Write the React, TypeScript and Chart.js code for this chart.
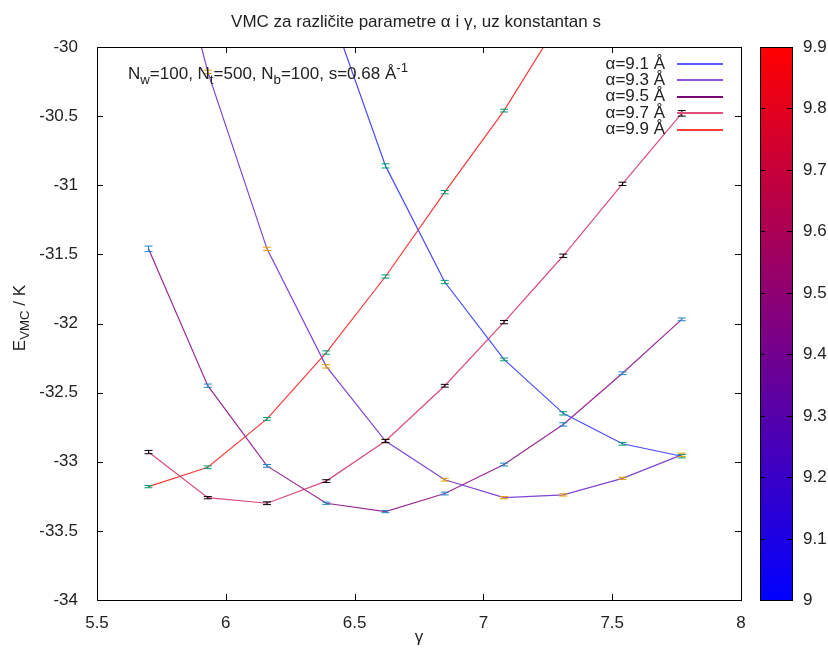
import React, { useEffect, useRef } from "react";
import { Chart, registerables } from "chart.js";

Chart.register(...registerables);

const gamma = [5.7, 5.93, 6.16, 6.39, 6.62, 6.85, 7.08, 7.31, 7.54, 7.77];
const alphaLabels = ["α=9.1 Å", "α=9.3 Å", "α=9.5 Å", "α=9.7 Å", "α=9.9 Å"];
const e91 = [-25.4, -26.9, -28.3, -29.65, -30.86, -31.7, -32.26, -32.65, -32.87, -32.96];
const e93 = [-28.5, -30.18, -31.46, -32.31, -32.85, -33.13, -33.26, -33.24, -33.12, -32.95];
const e95 = [-31.46, -32.45, -33.03, -33.3, -33.36, -33.23, -33.02, -32.73, -32.36, -31.97];
const e97 = [-32.93, -33.26, -33.3, -33.14, -32.85, -32.45, -31.99, -31.51, -30.99, -30.48];
const e99 = [-33.18, -33.04, -32.69, -32.21, -31.66, -31.05, -30.46, -29.77, -29.0, -28.2];
const err91 = [0.01, 0.01, 0.01, 0.01, 0.015, 0.012, 0.01, 0.012, 0.01, 0.012];
const err93 = [0.01, 0.012, 0.012, 0.012, 0.012, 0.01, 0.008, 0.008, 0.008, 0.012];
const err95 = [0.02, 0.012, 0.01, 0.008, 0.008, 0.01, 0.01, 0.012, 0.01, 0.01];
const err97 = [0.012, 0.008, 0.01, 0.01, 0.012, 0.01, 0.012, 0.012, 0.012, 0.02];
const err99 = [0.008, 0.01, 0.01, 0.012, 0.012, 0.012, 0.01, 0.01, 0.01, 0.01];
const lineColors = ["#4a4aff", "#8044d4", "#9a2a96", "#dc4c78", "#ff3a3a"];
const legendColors = ["#5a5aff", "#8a55d8", "#7a0a76", "#e0507a", "#ff3a3a"];
const errColors = ["#009e73", "#e69f00", "#1a86c8", "#000000", "#009e73"];
const xTicks = [5.5, 6, 6.5, 7, 7.5, 8];
const yTicks = [-34, -33.5, -33, -32.5, -32, -31.5, -31, -30.5, -30];
const cbTicks = [9, 9.1, 9.2, 9.3, 9.4, 9.5, 9.6, 9.7, 9.8, 9.9];

const energies = [e91, e93, e95, e97, e99];
const errors = [err91, err93, err95, err97, err99];

const FONT = "'Liberation Sans', Arial, sans-serif";
const FS = 17;

type Part = { t: string; sub?: boolean; sup?: boolean };

function drawRich(ctx: CanvasRenderingContext2D, parts: Part[], x: number, y: number, size: number) {
  let cx = x;
  for (const p of parts) {
    const s = p.sub || p.sup ? size * 0.78 : size;
    ctx.font = `${s}px ${FONT}`;
    const dy = p.sub ? size * 0.3 : p.sup ? -size * 0.4 : 0;
    ctx.fillText(p.t, cx, y + dy);
    cx += ctx.measureText(p.t).width;
  }
  return cx - x;
}

function measureRich(ctx: CanvasRenderingContext2D, parts: Part[], size: number) {
  let w = 0;
  for (const p of parts) {
    const s = p.sub || p.sup ? size * 0.78 : size;
    ctx.font = `${s}px ${FONT}`;
    w += ctx.measureText(p.t).width;
  }
  return w;
}

const extras = {
  id: "extras",
  afterDatasetsDraw(chart: any) {
    const ctx: CanvasRenderingContext2D = chart.ctx;
    const { left, right, top, bottom } = chart.chartArea;
    const xs = chart.scales.x;
    const ys = chart.scales.y;
    ctx.save();
    ctx.beginPath();
    ctx.rect(left, top, right - left, bottom - top);
    ctx.clip();
    energies.forEach((arr, si) => {
      ctx.strokeStyle = errColors[si];
      ctx.lineWidth = 1;
      arr.forEach((v, i) => {
        const e = errors[si][i];
        const px = xs.getPixelForValue(gamma[i]);
        const y1 = ys.getPixelForValue(v + e);
        const y2 = ys.getPixelForValue(v - e);
        ctx.beginPath();
        ctx.moveTo(px, y1);
        ctx.lineTo(px, y2);
        ctx.moveTo(px - 4, y1);
        ctx.lineTo(px + 4, y1);
        ctx.moveTo(px - 4, y2);
        ctx.lineTo(px + 4, y2);
        ctx.stroke();
      });
    });
    ctx.restore();
  },
  afterDraw(chart: any) {
    const ctx: CanvasRenderingContext2D = chart.ctx;
    const { left, right, top, bottom } = chart.chartArea;
    const xs = chart.scales.x;
    const ys = chart.scales.y;
    ctx.save();
    ctx.strokeStyle = "#000";
    ctx.lineWidth = 1;
    ctx.strokeRect(Math.round(left) + 0.5, Math.round(top) + 0.5, Math.round(right - left), Math.round(bottom - top));
    ctx.beginPath();
    xTicks.forEach((t) => {
      const px = Math.round(xs.getPixelForValue(t)) + 0.5;
      ctx.moveTo(px, bottom);
      ctx.lineTo(px, bottom - 6);
      ctx.moveTo(px, top);
      ctx.lineTo(px, top + 6);
    });
    yTicks.forEach((t) => {
      const py = Math.round(ys.getPixelForValue(t)) + 0.5;
      ctx.moveTo(left, py);
      ctx.lineTo(left + 6, py);
      ctx.moveTo(right, py);
      ctx.lineTo(right - 6, py);
    });
    ctx.stroke();

    ctx.fillStyle = "#222";
    ctx.font = `${FS}px ${FONT}`;
    ctx.textAlign = "center";
    ctx.textBaseline = "middle";
    ctx.fillText("VMC za različite parametre α i γ, uz konstantan s", 416, 22);
    ctx.fillText("γ", (left + right) / 2, 637);

    ctx.save();
    ctx.translate(20, 318);
    ctx.rotate(-Math.PI / 2);
    ctx.textAlign = "left";
    ctx.textBaseline = "middle";
    const yParts: Part[] = [{ t: "E" }, { t: "VMC", sub: true }, { t: " / K" }];
    const yw = measureRich(ctx, yParts, FS);
    drawRich(ctx, yParts, -yw / 2, 0, FS);
    ctx.restore();

    ctx.textAlign = "left";
    ctx.textBaseline = "alphabetic";
    const ann: Part[] = [
      { t: "N" }, { t: "w", sub: true }, { t: "=100, N" }, { t: "t", sub: true },
      { t: "=500, N" }, { t: "b", sub: true }, { t: "=100, s=0.68 Å" }, { t: "-1", sup: true },
    ];
    drawRich(ctx, ann, 128, 79, FS);

    ctx.textAlign = "right";
    ctx.textBaseline = "middle";
    ctx.font = `${FS}px ${FONT}`;
    alphaLabels.forEach((lab, i) => {
      const y = 64 + 16.4 * i;
      ctx.fillStyle = "#222";
      ctx.fillText(lab, 665, y);
      ctx.strokeStyle = legendColors[i];
      ctx.lineWidth = 2;
      ctx.beginPath();
      ctx.moveTo(677, Math.round(y));
      ctx.lineTo(723, Math.round(y));
      ctx.stroke();
    });

    const cbL = 760, cbR = 792, cbT = top, cbB = bottom;
    const g = ctx.createLinearGradient(0, cbB, 0, cbT);
    g.addColorStop(0, "rgb(0,0,255)");
    g.addColorStop(1, "rgb(255,0,0)");
    ctx.fillStyle = g;
    ctx.fillRect(cbL, cbT, cbR - cbL, cbB - cbT);
    ctx.strokeStyle = "#000";
    ctx.lineWidth = 1;
    ctx.strokeRect(cbL + 0.5, cbT + 0.5, cbR - cbL, cbB - cbT);
    ctx.beginPath();
    ctx.font = `${FS}px ${FONT}`;
    ctx.textAlign = "left";
    ctx.textBaseline = "middle";
    ctx.fillStyle = "#222";
    cbTicks.forEach((t) => {
      const py = Math.round(cbB - ((t - 9) / 0.9) * (cbB - cbT)) + 0.5;
      if (t > 9 && t < 9.9) {
        ctx.moveTo(cbL, py);
        ctx.lineTo(cbL + 5, py);
        ctx.moveTo(cbR, py);
        ctx.lineTo(cbR - 5, py);
      }
      ctx.fillText(String(t), 803, py);
    });
    ctx.stroke();
    ctx.restore();
  },
};

export default function App() {
  const ref = useRef<HTMLCanvasElement>(null);
  useEffect(() => {
    if (!ref.current) return;
    const datasets = energies.map((arr, si) => ({
      label: alphaLabels[si],
      data: arr.map((v, i) => ({ x: gamma[i], y: v })),
      borderColor: lineColors[si],
      borderWidth: 1.2,
      pointRadius: 0,
      tension: 0,
      fill: false,
    }));
    const chart = new Chart(ref.current, {
      type: "line",
      data: { datasets },
      options: {
        animation: false,
        responsive: false,
        layout: { padding: { top: 47, right: 87, left: 0, bottom: 0 } },
        plugins: {
          legend: { display: false },
          title: { display: false },
          tooltip: { enabled: false },
        },
        scales: {
          x: {
            type: "linear",
            min: 5.5,
            max: 8,
            afterBuildTicks: (s: any) => {
              s.ticks = xTicks.map((v) => ({ value: v }));
            },
            afterFit: (s: any) => {
              s.height = 48;
            },
            grid: { display: false },
            border: { display: false },
            ticks: {
              padding: 5,
              color: "#222",
              maxRotation: 0,
              autoSkip: false,
              font: { size: FS, family: FONT },
              callback: (v: any) => String(Number(v)),
            },
          },
          y: {
            type: "linear",
            min: -34,
            max: -30,
            afterBuildTicks: (s: any) => {
              s.ticks = yTicks.map((v) => ({ value: v }));
            },
            afterFit: (s: any) => {
              s.width = 97;
            },
            grid: { display: false },
            border: { display: false },
            ticks: {
              padding: 11,
              color: "#222",
              autoSkip: false,
              font: { size: FS, family: FONT },
              callback: (v: any) => String(Number(v)),
            },
          },
        },
      } as any,
      plugins: [extras],
    });
    return () => chart.destroy();
  }, []);
  return (
    <div style={{ position: "fixed", left: 0, top: 0, width: 828, height: 648, background: "#fff" }}>
      <canvas ref={ref} width={828} height={648} style={{ width: 828, height: 648 }} />
    </div>
  );
}
